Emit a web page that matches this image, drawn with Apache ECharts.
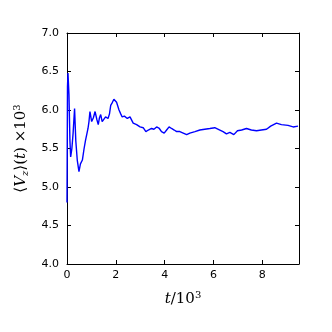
<!DOCTYPE html>
<html>
<head>
<meta charset="utf-8">
<script src="https://cdn.jsdelivr.net/npm/echarts@6/dist/echarts.min.js"></script>
<style>
  html, body { margin: 0; padding: 0; background: #fff; }
  #main { width: 332px; height: 332px; }
</style>
</head>
<body>
<div id="main"></div>
<script>
// time in units of 10^3
var tValues = [0, 0.02, 0.04, 0.08, 0.12, 0.15, 0.2, 0.25, 0.31, 0.36, 0.42, 0.49, 0.55, 0.63, 0.7, 0.76, 0.82, 0.86, 0.9, 0.94, 1.01, 1.08, 1.15, 1.22, 1.28, 1.33, 1.38, 1.44, 1.49, 1.58, 1.68, 1.74, 1.79, 1.86, 1.92, 1.98, 2.03, 2.13, 2.2, 2.26, 2.35, 2.47, 2.58, 2.71, 2.85, 2.99, 3.12, 3.23, 3.33, 3.46, 3.56, 3.67, 3.78, 3.87, 3.98, 4.08, 4.18, 4.28, 4.39, 4.49, 4.62, 4.76, 4.9, 5.03, 5.24, 5.44, 5.64, 5.85, 6.05, 6.26, 6.39, 6.53, 6.67, 6.83, 6.98, 7.15, 7.35, 7.55, 7.76, 7.96, 8.17, 8.34, 8.58, 8.78, 9.05, 9.26, 9.46];
var vzValues = [4.8, 6.3, 6.48, 6.2, 5.6, 5.39, 5.5, 5.7, 6.02, 5.6, 5.35, 5.2, 5.3, 5.35, 5.5, 5.61, 5.7, 5.76, 5.85, 5.98, 5.85, 5.9, 5.98, 5.88, 5.81, 5.9, 5.94, 5.85, 5.87, 5.91, 5.89, 5.95, 6.06, 6.1, 6.14, 6.12, 6.1, 6.0, 5.95, 5.91, 5.92, 5.89, 5.91, 5.83, 5.81, 5.78, 5.77, 5.72, 5.74, 5.76, 5.75, 5.78, 5.76, 5.72, 5.7, 5.74, 5.78, 5.76, 5.74, 5.72, 5.72, 5.7, 5.68, 5.7, 5.72, 5.74, 5.75, 5.76, 5.77, 5.74, 5.72, 5.69, 5.71, 5.68, 5.73, 5.74, 5.76, 5.74, 5.73, 5.74, 5.75, 5.79, 5.83, 5.81, 5.8, 5.78, 5.79];
var xTicks = [0, 2, 4, 6, 8];

var myChart = echarts.init(document.getElementById('main'), null, { renderer: 'canvas' });

var seriesData = tValues.map(function (t, i) { return [t, vzValues[i]]; });

function tickStyle() {
	return { show: true, inside: true, length: 4, lineStyle: { color: '#000', width: 1 } };
}
var lineStyle = { color: '#000', width: 1 };
var labelFont = { color: '#000', fontFamily: 'DejaVu Sans', fontSize: 11 };

var option = {
	animation: false,
	grid: { left: 67, right: 33, top: 33, bottom: 68, containLabel: false },
	xAxis: [{
		type: 'value',
		min: 0,
		max: 9.5,
		interval: 2,
		position: 'bottom',
		axisLine: { show: true, onZero: false, lineStyle: lineStyle },
		axisTick: tickStyle(),
		splitLine: { show: false },
		axisLabel: Object.assign({ margin: 6, showMaxLabel: false, formatter: function (v) {
			return xTicks.indexOf(v) >= 0 ? String(v) : '';
		} }, labelFont),
		name: '{i|t}{n|/10}{s|3}',
		nameLocation: 'middle',
		nameGap: 26,
		nameTextStyle: {
			rich: {
				i: { fontFamily: 'DejaVu Serif', fontStyle: 'italic', fontSize: 15, color: '#000' },
				n: { fontFamily: 'DejaVu Serif', fontSize: 15, color: '#000' },
				s: { fontFamily: 'DejaVu Serif', fontSize: 10, color: '#000', verticalAlign: 'top', padding: [0, 0, 8, 0] }
			}
		}
	}, {
		type: 'value',
		min: 0,
		max: 9.5,
		interval: 2,
		position: 'top',
		axisLine: { show: true, onZero: false, lineStyle: lineStyle },
		axisTick: Object.assign(tickStyle(), { customValues: xTicks }),
		axisLabel: { show: false },
		splitLine: { show: false }
	}],
	yAxis: [{
		type: 'value',
		min: 4,
		max: 7,
		interval: 0.5,
		position: 'left',
		axisLine: { show: true, onZero: false, lineStyle: lineStyle },
		axisTick: tickStyle(),
		splitLine: { show: false },
		axisLabel: Object.assign({ margin: 8, formatter: function (v) { return v.toFixed(1); } }, labelFont),
		name: '{n|⟨}{i|V}{b|z}{n|⟩(}{i|t}{n|) ×10}{s|3}',
		nameLocation: 'middle',
		nameRotate: 90,
		nameGap: 37,
		nameTextStyle: {
			rich: {
				n: { fontFamily: 'DejaVu Serif', fontSize: 15, color: '#000' },
				i: { fontFamily: 'DejaVu Serif', fontStyle: 'italic', fontSize: 15, color: '#000' },
				b: { fontFamily: 'DejaVu Serif', fontStyle: 'italic', fontSize: 10, color: '#000', verticalAlign: 'bottom', padding: [6, 0, 0, 0] },
				s: { fontFamily: 'DejaVu Serif', fontSize: 10, color: '#000', verticalAlign: 'top', padding: [0, 0, 8, 0] }
			}
		}
	}, {
		type: 'value',
		min: 4,
		max: 7,
		interval: 0.5,
		position: 'right',
		axisLine: { show: true, onZero: false, lineStyle: lineStyle },
		axisTick: tickStyle(),
		axisLabel: { show: false },
		splitLine: { show: false }
	}],
	series: [{
		type: 'line',
		data: seriesData,
		xAxisIndex: 0,
		yAxisIndex: 0,
		showSymbol: false,
		lineStyle: { color: '#0000ff', width: 1.4 },
		clip: true
	}]
};

myChart.setOption(option);
window.onresize = myChart.resize;
</script>
</body>
</html>
